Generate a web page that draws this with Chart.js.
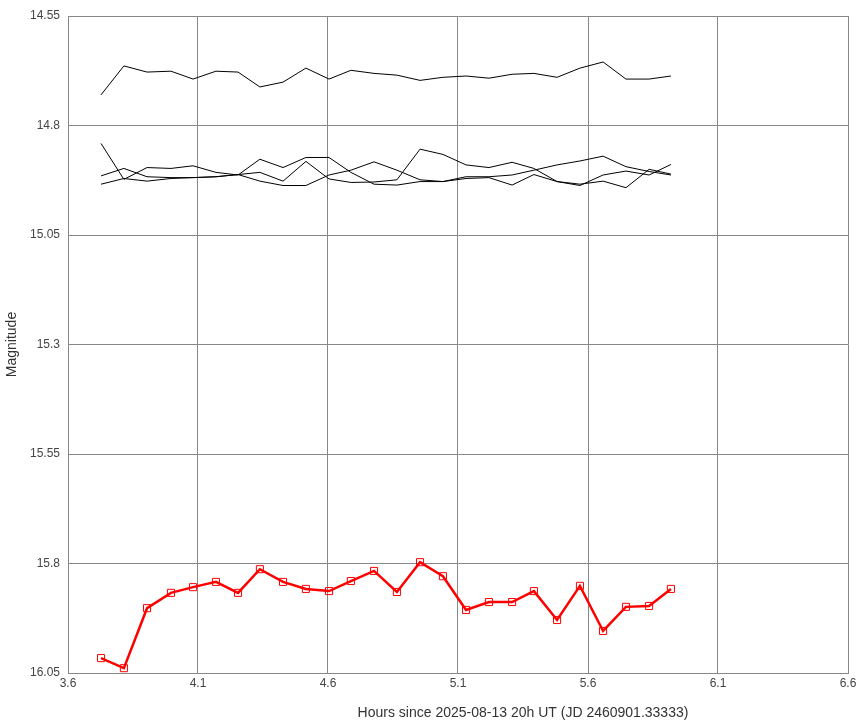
<!DOCTYPE html>
<html><head><meta charset="utf-8">
<script src="https://cdn.jsdelivr.net/npm/chart.js@4"></script>
<style>html,body{margin:0;padding:0;background:#fff}#w{width:865px;height:725px}</style>
</head><body><div id="w"><canvas id="c"></canvas></div>
<script>
const hours = [3.727,3.815,3.904,3.996,4.081,4.169,4.254,4.338,4.427,4.515,4.604,4.688,4.777,4.865,4.954,5.042,5.131,5.219,5.308,5.392,5.481,5.569,5.658,5.746,5.835,5.919];
const target = [16.016,16.039,15.902,15.867,15.854,15.842,15.867,15.813,15.842,15.858,15.863,15.840,15.817,15.865,15.797,15.829,15.906,15.888,15.888,15.863,15.929,15.851,15.954,15.899,15.897,15.858];
const comp1 = [14.730,14.664,14.678,14.676,14.694,14.676,14.678,14.712,14.701,14.669,14.694,14.674,14.681,14.685,14.697,14.690,14.687,14.692,14.683,14.681,14.690,14.669,14.655,14.694,14.694,14.687];
const comp2 = [14.841,14.923,14.896,14.898,14.892,14.907,14.913,14.877,14.896,14.873,14.873,14.907,14.934,14.936,14.928,14.928,14.917,14.917,14.913,14.902,14.890,14.881,14.870,14.894,14.905,14.913];
const comp3 = [14.915,14.898,14.917,14.919,14.919,14.917,14.912,14.907,14.927,14.882,14.922,14.930,14.929,14.924,14.854,14.866,14.890,14.896,14.884,14.898,14.928,14.934,14.927,14.942,14.900,14.911];
const comp4 = [14.934,14.921,14.927,14.921,14.919,14.917,14.912,14.927,14.937,14.937,14.913,14.902,14.883,14.902,14.924,14.928,14.921,14.919,14.936,14.912,14.928,14.937,14.913,14.904,14.913,14.889];
const yTicks = [14.55,14.8,15.05,15.3,15.55,15.8,16.05];
const yTickLabels = ['14.55','14.8','15.05','15.3','15.55','15.8','16.05'];
const xTicks = [3.6,4.1,4.6,5.1,5.6,6.1,6.6];
const xTitle = 'Hours since 2025-08-13 20h UT (JD 2460901.33333)';
const pts = a => a.map((v,i)=>({x:hours[i],y:v}));
const black = d => ({data:pts(d),borderColor:'#000',borderWidth:1,pointRadius:0,fill:false,tension:0});
const titlePlugin={id:'xt',afterDraw(ch){const c=ch.ctx;c.save();c.font='14px "Liberation Sans", Arial';c.fillStyle='#333';c.textAlign='center';c.textBaseline='middle';c.fillText(xTitle,523,713);c.restore();}};
new Chart(document.getElementById('c'),{
 type:'line',
 data:{datasets:[
  {data:pts(target),borderColor:'#ff0000',borderWidth:2.5,pointStyle:'rect',pointRadius:5,pointBorderColor:'#ff0000',pointBorderWidth:1,pointBackgroundColor:'rgba(0,0,0,0)',fill:false,tension:0},
  black(comp1),black(comp2),black(comp3),black(comp4)]},
 options:{responsive:true,maintainAspectRatio:false,animation:false,
  layout:{padding:{top:16,right:17,left:0,bottom:0}},
  plugins:{legend:{display:false},tooltip:{enabled:false}},
  scales:{
   x:{type:'linear',min:3.6,max:6.6,afterBuildTicks(s){s.ticks=xTicks.map(v=>({value:v}));},
      ticks:{color:'#444',font:{family:'"Liberation Sans", Arial',size:12},maxRotation:0,callback:v=>String(v)},
      grid:{color:'#888',lineWidth:1,drawTicks:false},border:{color:'#888'},
      afterFit(s){s.height=52;}},
   y:{reverse:true,min:14.55,max:16.05,afterBuildTicks(s){s.ticks=yTicks.map(v=>({value:v}));},
      ticks:{color:'#444',padding:8,font:{family:'"Liberation Sans", Arial',size:12},callback:(v)=>{const i=yTicks.indexOf(v);return i>=0?yTickLabels[i]:String(v);}},
      grid:{color:'#888',lineWidth:1,drawTicks:false},border:{color:'#888'},
      title:{display:true,text:'Magnitude',color:'#333',font:{family:'"Liberation Sans", Arial',size:14}},
      afterFit(s){s.width=68;}}
  }},
 plugins:[titlePlugin]
});
</script></body></html>
